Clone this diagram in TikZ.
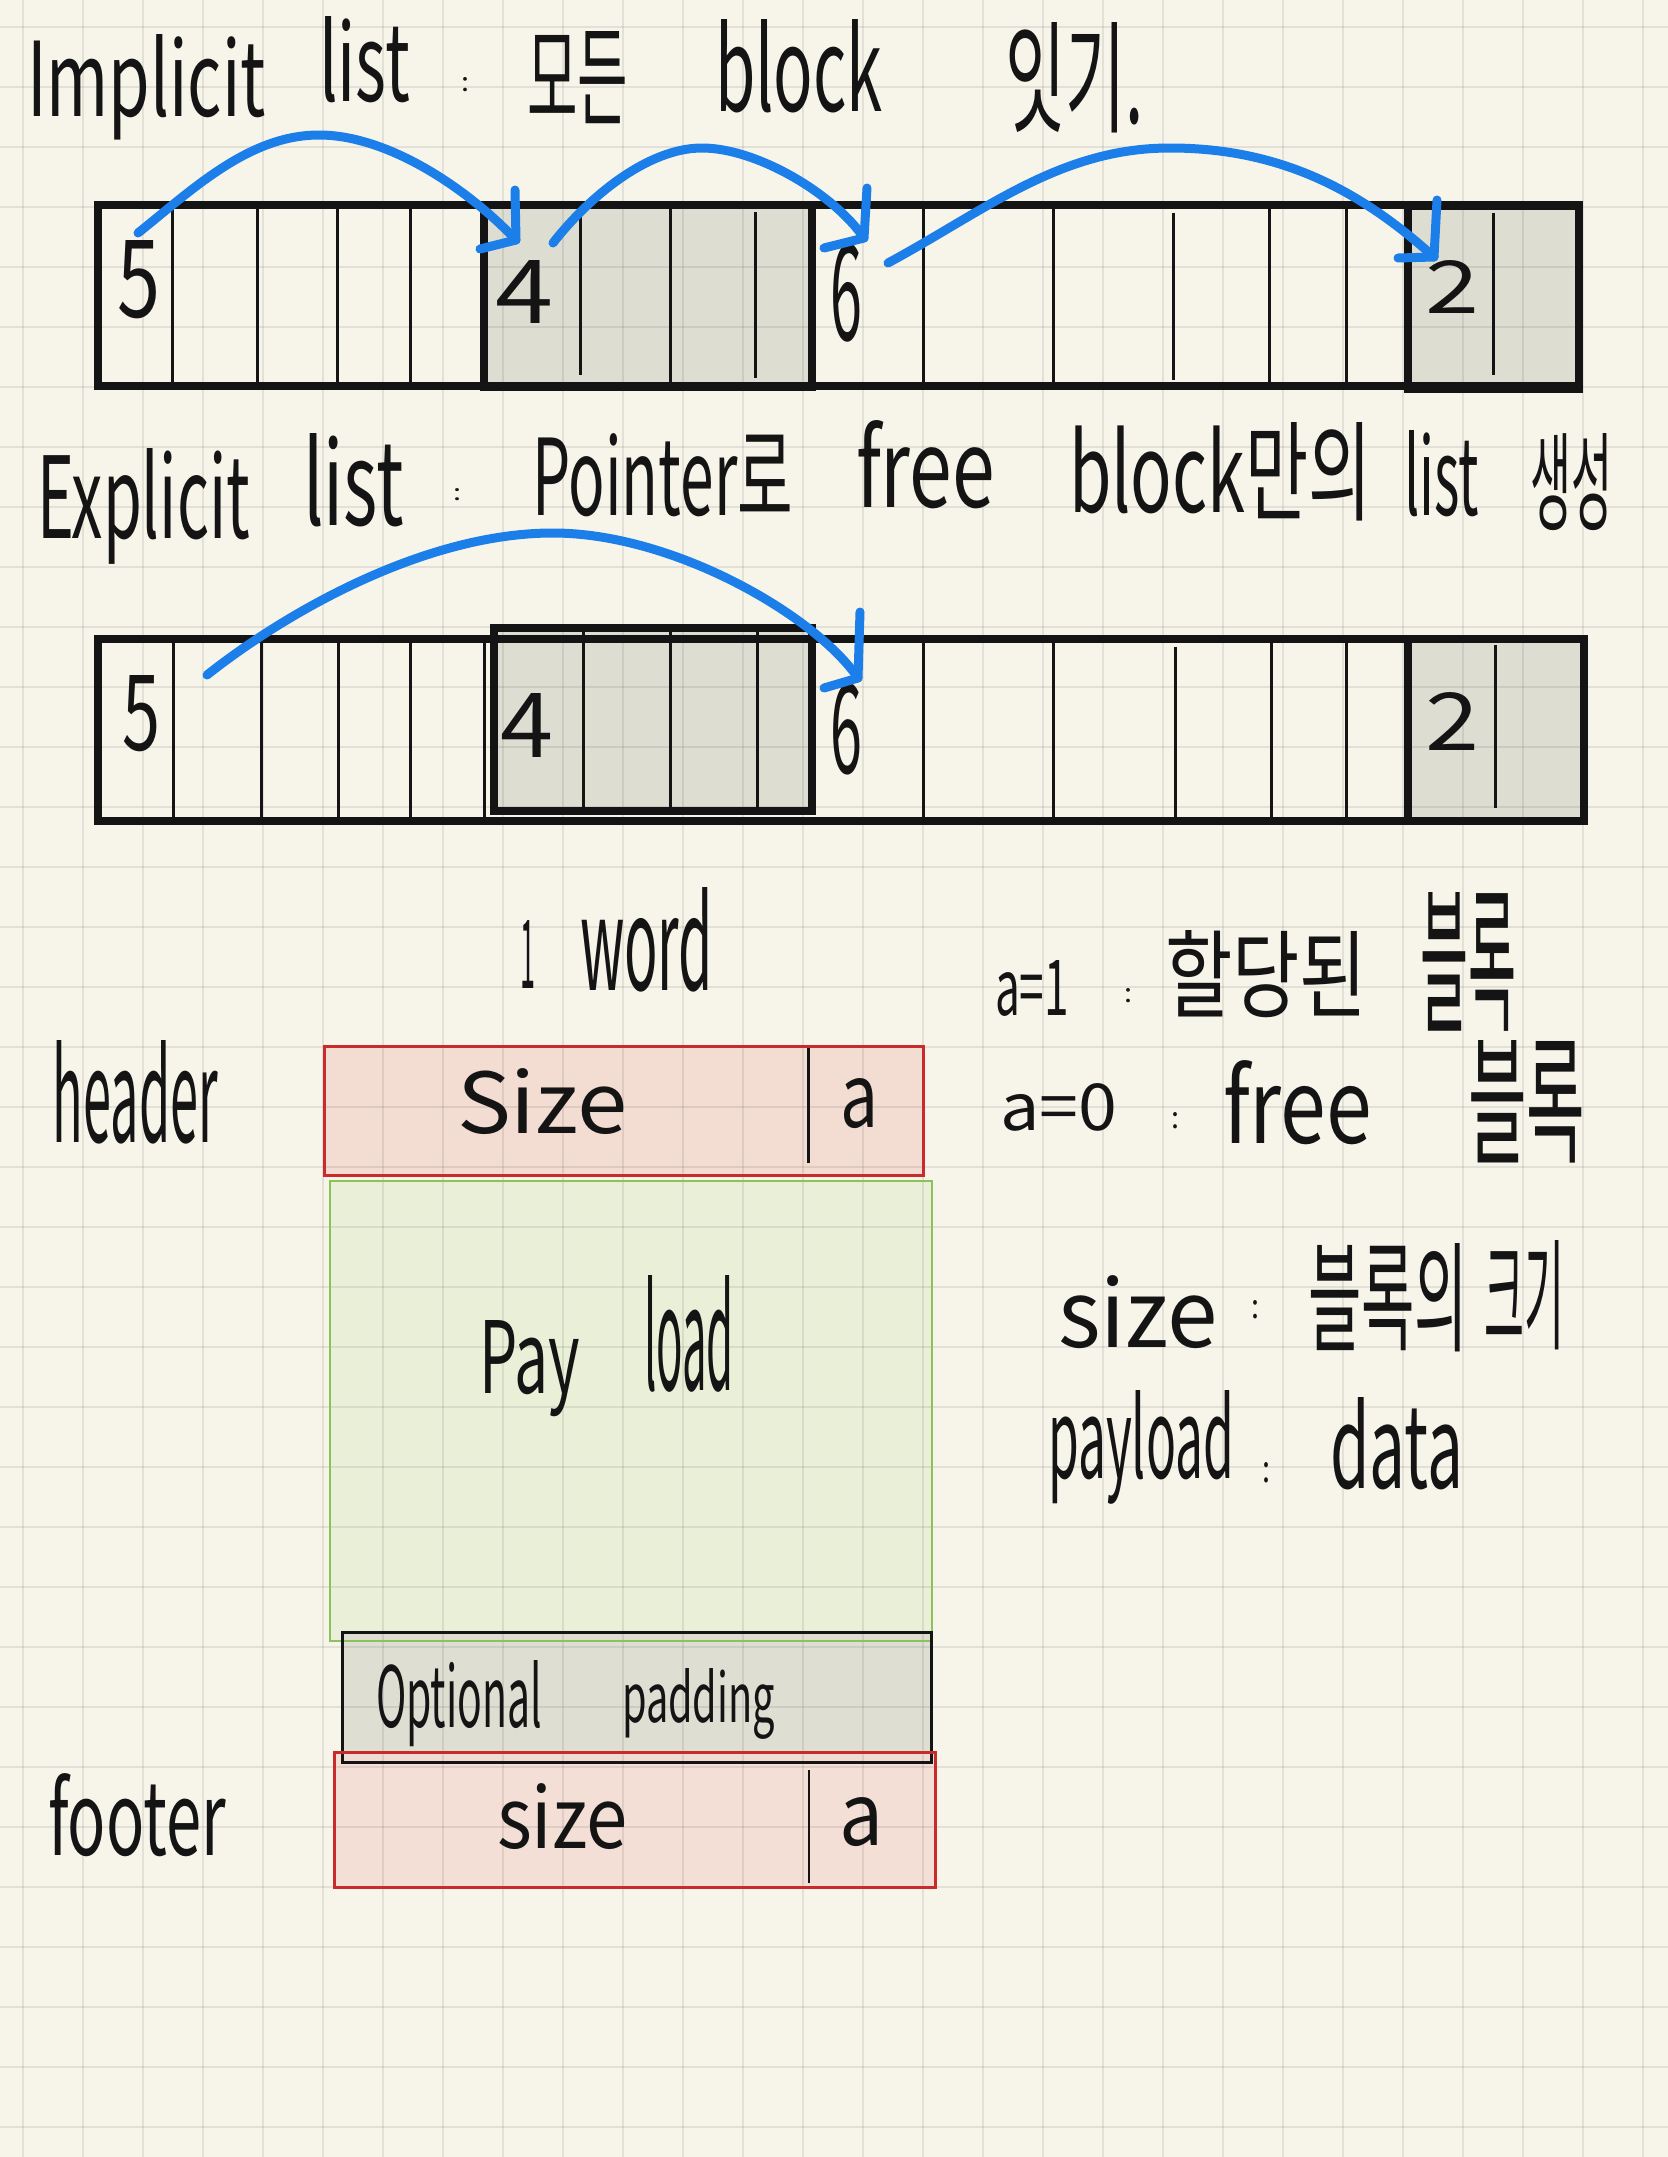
\documentclass[tikz,border=0pt]{standalone}
\usepackage{fontspec}
\usepackage{graphicx}
\setmainfont{Noto Sans CJK KR}
\newdimen\px \px=0.5pt
\newcommand\hw[3]{\resizebox{#1\px}{#2\px}{#3}}
\definecolor{paper}{HTML}{F7F5EA}
\definecolor{ink}{HTML}{141414}
\definecolor{blockgrey}{HTML}{DEDDD2}
\definecolor{pinkfill}{HTML}{F3DCD2}
\definecolor{redline}{HTML}{C92A2A}
\definecolor{greenfill}{HTML}{E9F0D7}
\definecolor{greenline}{HTML}{8CC25A}
\definecolor{padfill}{HTML}{DDDCD1}
\definecolor{arrowblue}{HTML}{1C7EE8}
\begin{document}
\begin{tikzpicture}[x=0.5pt,y=-0.5pt,
  txt/.style={inner sep=0pt, outer sep=0pt, anchor=base west, text=ink, font=\fontsize{40}{48}\selectfont},
  border/.style={draw=ink, line width=4.25pt, line join=miter},
  divider/.style={draw=ink, line width=1.5pt},
  gridline/.style={draw=black, draw opacity=0.08, line width=1pt},
  arr/.style={draw=arrowblue, line width=4.5pt, line cap=round, line join=round},
  greyblock/.style={fill=blockgrey},
  redbox/.style={fill=pinkfill},
  rededge/.style={draw=redline, line width=1.5pt},
  greenbox/.style={fill=greenfill},
  greenedge/.style={draw=greenline, line width=1.25pt},
  padbox/.style={fill=padfill, fill opacity=0.9},
  padedge/.style={draw=ink, line width=1.5pt},
  wordline/.style={draw=ink, line width=1.25pt}
]
\useasboundingbox (0,0) rectangle (1668,2157);
\fill[paper] (0,0) rectangle (1668,2157);

% ---------- fills ----------
\fill[greyblock] (484,205) rectangle (812,387);
\fill[greyblock] (1408,206) rectangle (1579,389);
\fill[greyblock] (494,628) rectangle (812,811);
\fill[greyblock] (1408,639) rectangle (1584,821);
\fill[redbox] (324,1046) rectangle (923,1175);
\fill[greenbox] (330,1181) rectangle (932,1641);
\fill[padbox] (342,1632) rectangle (931,1762);
\fill[redbox, fill opacity=0.85] (334,1752) rectangle (935,1887);

% ---------- grid ----------
\foreach \i in {0,...,27} \draw[gridline] (23.4+60*\i,0) -- (23.4+60*\i,2157);
\foreach \j in {0,...,35} \draw[gridline] (0,26.7+60*\j) -- (1668,26.7+60*\j);

% ---------- row 1 (implicit) ----------
\foreach \x/\a/\b in {172/209/382, 257/209/382, 337/209/382, 410/209/382, 580/212/375, 670/209/382, 755/212/378, 923/209/382, 1053/209/382, 1173/213/380, 1269/209/382, 1346/209/382, 1493/213/375}
  \draw[divider] (\x,\a) -- (\x,\b);
\draw[border] (98,205) rectangle (1579,386);
\draw[border] (484,205) rectangle (812,387);
\draw[border] (1408,206) rectangle (1579,389);

% ---------- row 2 (explicit) ----------
\foreach \x/\a/\b in {173/643/817, 261/643/817, 338/643/817, 410/643/817, 484/642/817, 583/632/807, 670/632/807, 757/632/807, 923/643/817, 1053/643/817, 1175/647/817, 1271/643/817, 1346/643/817, 1495/645/808}
  \draw[divider] (\x,\a) -- (\x,\b);
\draw[border] (98,639) rectangle (1584,821);
\draw[border] (494,628) rectangle (812,811);
\draw[border] (1408,639) rectangle (1584,821);

% ---------- block layout ----------
\draw[rededge] (324,1046) rectangle (923,1175);
\draw[greenedge] (330,1181) rectangle (932,1641);
\draw[padedge] (342,1632) rectangle (931,1762);
\draw[rededge] (334,1752) rectangle (935,1887);
\draw[wordline] (808.5,1048) -- (808.5,1163);
\draw[wordline] (809,1770) -- (809,1883);

% ---------- titles ----------
\node[txt] (t1a) at (27,117) {\hw{239}{82}{Implicit}};
\node[txt] (t1b) at (319,102) {\hw{91}{85}{list}};
\node[txt] (t1c) at (461,92) {\hw{8}{14}{:}};
\node[txt] (t1d) at (527,118) {\hw{101}{86}{모든}};
\node[txt] (t1e) at (715,112) {\hw{168}{92}{block}};
\node[txt] (t1f) at (1005,124) {\hw{139}{101}{잇기.}};

\node[txt] (t2a) at (37,538) {\hw{213}{90}{Explicit}};
\node[txt] (t2b) at (303,525) {\hw{101}{92}{list}};
\node[txt] (t2c) at (453,500) {\hw{8}{12}{:}};
\node[txt] (t2d) at (532,515) {\hw{261}{82}{Pointer로}};
\node[txt] (t2e) at (856,507) {\hw{139}{87}{free}};
\node[txt] (t2f) at (1069,512) {\hw{303}{90}{block만의}};
\node[txt] (t2g) at (1404,515) {\hw{75}{85}{list}};
\node[txt] (t2h) at (1530,522) {\hw{82}{89}{생성}};

% ---------- block numbers ----------
\node[txt] (n15) at (117,317) {\hw{43}{77}{5}};
\node[txt] (n14) at (495,323) {\hw{58}{63}{4}};
\node[txt] (n16) at (830,340) {\hw{32}{97}{6}};
\node[txt] (n12) at (1425,313) {\hw{54}{53}{2}};
\node[txt] (n25) at (122,750) {\hw{38}{75}{5}};
\node[txt] (n24) at (500,757) {\hw{53}{64}{4}};
\node[txt] (n26) at (830,773) {\hw{32}{90}{6}};
\node[txt] (n22) at (1425,750) {\hw{54}{58}{2}};

% ---------- lower labels ----------
\node[txt] (w1) at (520,988) {\hw{15}{68}{1}};
\node[txt] (w2) at (580,990) {\hw{133}{103}{word}};
\node[txt] (hd) at (53,1142) {\hw{165}{102}{header}};
\node[txt] (hs) at (457,1133) {\hw{171}{65}{Size}};
\node[txt] (ha) at (840,1127) {\hw{38}{49}{a}};
\node[txt] (p1) at (479,1393) {\hw{101}{73}{Pay}};
\node[txt] (p2) at (644,1390) {\hw{90}{115}{load}};
\node[txt] (o1) at (376,1727) {\hw{166}{67}{Optional}};
\node[txt] (o2) at (622,1722) {\hw{153}{54}{padding}};
\node[txt] (ft) at (48,1855) {\hw{178}{82}{footer}};
\node[txt] (fs) at (497,1848) {\hw{131}{65}{size}};
\node[txt] (fa) at (839,1845) {\hw{44}{48}{a}};

% ---------- notes on the right ----------
\node[txt] (r1a) at (995,1015) {\hw{74}{55}{a=1}};
\node[txt] (r1b) at (1124,1002) {\hw{8}{14}{:}};
\node[txt] (r1c) at (1165,1010) {\hw{202}{80}{할당된}};
\node[txt] (r1d) at (1420,1020) {\hw{96}{128}{블록}};
\node[txt] (r2a) at (1000,1130) {\hw{117}{47}{a=0}};
\node[txt] (r2b) at (1171,1128) {\hw{8}{16}{:}};
\node[txt] (r2c) at (1223,1143) {\hw{149}{83}{free}};
\node[txt] (r2d) at (1468,1153) {\hw{117}{113}{블록}};
\node[txt] (r3a) at (1058,1347) {\hw{160}{72}{size}};
\node[txt] (r3b) at (1251,1318) {\hw{8}{18}{:}};
\node[txt] (r3c) at (1308,1342) {\hw{160}{99}{블록의}};
\node[txt] (r3d) at (1484,1340) {\hw{80}{100}{크기}};
\node[txt] (r4a) at (1048,1478) {\hw{186}{88}{payload}};
\node[txt] (r4b) at (1262,1482) {\hw{8}{20}{:}};
\node[txt] (r4c) at (1330,1488) {\hw{133}{91}{data}};

% ---------- arrows ----------
\coordinate (a1s) at (138,233);
\coordinate (a1e) at (516,240);
\coordinate (a2s) at (553,243);
\coordinate (a2e) at (864,238);
\coordinate (a3s) at (888,263);
\coordinate (a3e) at (1434,257);
\coordinate (a4s) at (207,675);
\coordinate (a4e) at (858,678);

\draw[arr] (a1s) .. controls (193,189) and (249,135) .. (319,135) .. controls (389,135) and (469,190) .. (a1e);
\draw[arr] (a1e) ++(-1,-50) -- (a1e) -- ++(-36,9);
\draw[arr] (a2s) .. controls (588,198) and (647,148) .. (702,148) .. controls (757,148) and (834,194) .. (a2e);
\draw[arr] (a2e) ++(3,-50) -- (a2e) -- ++(-40,10);
\draw[arr] (a3s) .. controls (986,210) and (1060,148) .. (1170,148) .. controls (1280,148) and (1360,190) .. (a3e);
\draw[arr] (a3e) ++(3,-57) -- (a3e) -- ++(-36,1);
\draw[arr] (a4s) .. controls (284,614) and (423,533) .. (553,533) .. controls (673,533) and (815,615) .. (a4e);
\draw[arr] (a4e) ++(2,-66) -- (a4e) -- ++(-34,10);
\end{tikzpicture}
\end{document}
